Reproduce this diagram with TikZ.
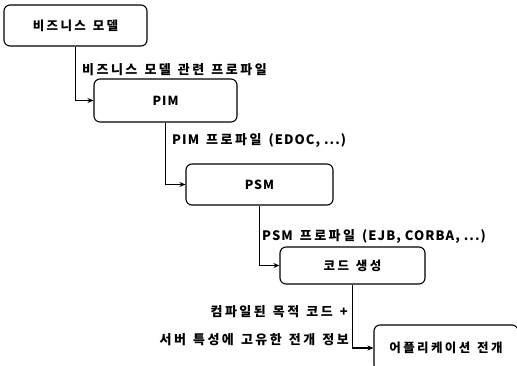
\documentclass[tikz,border=0pt]{standalone}
\usepackage{fontspec}
\usetikzlibrary{arrows.meta,positioning}
\newfontfamily\krfont{Noto Sans CJK KR}[LetterSpace=19,WordSpace=1.3]
\newfontfamily\enfont{Noto Sans CJK KR}[LetterSpace=8]
\newcommand{\en}[1]{{\enfont\bfseries #1}}
\tikzset{>={Stealth[length=6pt,width=5pt]},auto}
\tikzset{stage/.style={draw,rounded corners=6pt,line width=1.1pt,
    font=\krfont\bfseries\fontsize{12.5}{14}\selectfont}}
\tikzset{flow/.style={->,line width=1.3pt}}
\tikzset{note/.style={font=\krfont\bfseries\fontsize{13}{15}\selectfont,inner sep=0pt}}

\begin{document}
\begin{tikzpicture}[x=1pt,y=-1pt]
    \useasboundingbox (0,0) rectangle (517,365);
    \clip (0,0) rectangle (517,365);
    % stages
    \node[stage,minimum width=143pt,minimum height=41pt] (biz) at (75.5,25.5) {비즈니스 모델};
    \node[stage,minimum width=143pt,minimum height=43pt] (pim) at (165.5,100.5) {\en{PIM}};
    \node[stage,minimum width=147pt,minimum height=41pt] (psm) at (259.5,184.5) {\en{PSM}};
    \node[stage,minimum width=145pt,minimum height=37pt] (code) at (352.5,265.5) {코드 생성};
    \node[stage,minimum width=144pt,minimum height=46pt] (deploy) at (446,348) {어플리케이션 전개};
    % connectors
    \draw[flow] (biz.south) |- (pim.west);
    \draw[flow] (pim.south) |- (psm.west);
    \draw[flow] (psm.south) |- (code.west);
    \draw[flow] (code.south) |- (deploy.west);
    % labels
    \node[note,anchor=west] (l1) at (82,70) {비즈니스 모델 관련 프로파일};
    \node[note,anchor=west] (l2) at (172,140) {\en{PIM} 프로파일 \en{(EDOC, ...)}};
    \node[note,anchor=west] (l3) at (262,236) {\en{PSM} 프로파일 \en{(EJB, CORBA, ...)}};
    \node[note,anchor=east] (l4) at (348,312) {컴파일된 목적 코드 \en{+}};
    \node[note,anchor=east] (l5) at (349,340) {서버 특성에 고유한 전개 정보};
\end{tikzpicture}
\end{document}
